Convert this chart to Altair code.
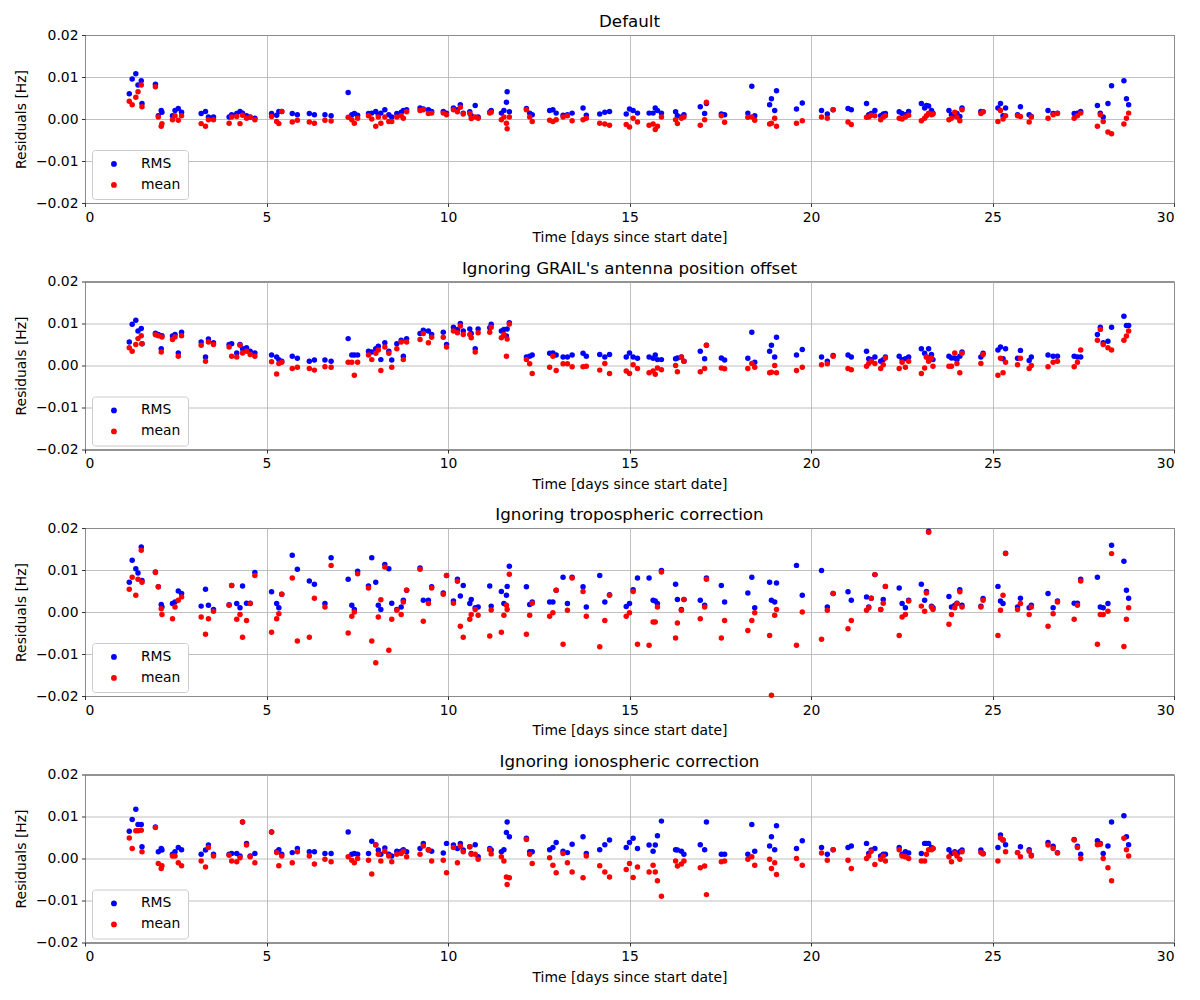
import altair as alt
import pandas as pd

# Observation times [days since start date]
DAYS = [
    1.22, 1.30, 1.40, 1.46, 1.55, 1.57, 1.94, 2.02, 2.10, 2.12,
    2.41, 2.48, 2.57, 2.66, 3.20, 3.32, 3.40, 3.54, 3.97, 4.04,
    4.18, 4.27, 4.34, 4.45, 4.55, 4.68, 5.14, 5.28, 5.34, 5.42,
    5.71, 5.85, 6.18, 6.32, 6.61, 6.78, 7.25, 7.35, 7.42, 7.51,
    7.81, 7.90, 8.01, 8.08, 8.15, 8.26, 8.37, 8.45, 8.59, 8.71,
    8.77, 8.86, 9.23, 9.32, 9.46, 9.55, 9.87, 9.96, 10.15, 10.26,
    10.34, 10.42, 10.60, 10.64, 10.75, 10.83, 11.15, 11.19, 11.47, 11.54,
    11.61, 11.63, 11.69, 12.16, 12.25, 12.32, 12.80, 12.89, 12.98, 13.17,
    13.29, 13.42, 13.72, 13.81, 14.18, 14.32, 14.45, 14.91, 15.00, 15.10,
    15.22, 15.54, 15.65, 15.71, 15.77, 15.88, 16.27, 16.32, 16.43, 16.50,
    16.95, 17.07, 17.12, 17.53, 17.62, 18.26, 18.37, 18.45, 18.86, 18.91,
    19.00, 19.05, 19.60, 19.76, 20.29, 20.45, 20.61, 21.02, 21.11, 21.53,
    21.59, 21.66, 21.76, 21.92, 21.99, 22.05, 22.43, 22.51, 22.60, 22.69,
    23.04, 23.13, 23.18, 23.24, 23.32, 23.36, 23.80, 23.87, 23.96, 24.02,
    24.10, 24.16, 24.68, 24.74, 25.15, 25.22, 25.29, 25.36, 25.69, 25.77,
    26.01, 26.07, 26.53, 26.67, 26.79, 27.25, 27.34, 27.43, 27.89, 27.97,
    28.05, 28.18, 28.28, 28.62, 28.69, 28.75,
]

# Residuals, in units of 1e-3 Hz
DEFAULT_RMS = [
    6.0, 9.5, 10.8, 8.1, 9.1, 3.7, 8.3, 0.8, 2.0, 1.6,
    0.8, 2.0, 2.5, 1.6, 1.3, 1.8, 0.5, 0.5, 0.5, 1.0,
    1.3, 1.8, 1.4, 0.8, 0.5, 0.2, 1.3, 0.9, 1.8, 1.8,
    1.3, 1.0, 1.3, 1.0, 1.0, 0.8, 6.3, 1.0, 1.3, 0.9,
    1.3, 1.4, 1.8, 1.0, 1.4, 2.2, 1.0, 0.5, 1.3, 1.6,
    2.0, 2.2, 2.6, 2.4, 2.2, 1.8, 1.8, 1.4, 2.6, 2.2,
    3.4, 1.4, 1.7, 0.8, 3.2, 0.5, 1.6, 2.0, 1.4, 2.0,
    4.0, 6.5, 1.7, 2.5, 1.4, 1.0, 2.0, 2.2, 1.4, 0.9,
    1.0, 1.4, 2.6, 0.9, 1.2, 1.6, 1.8, 1.2, 2.4, 2.0,
    1.4, 1.4, 1.4, 2.6, 2.0, 1.4, 1.7, 0.8, 0.5, 1.0,
    2.9, 1.3, 3.7, 1.2, 1.0, 1.4, 7.8, 0.8, 3.4, 4.8,
    2.0, 6.7, 2.4, 3.8, 2.0, 1.2, 2.2, 2.5, 2.2, 3.7,
    1.0, 1.3, 2.0, 0.8, 1.2, 1.3, 1.7, 1.3, 1.0, 1.8,
    3.7, 2.6, 3.2, 3.1, 2.0, 1.4, 2.0, 1.0, 0.8, 1.3,
    0.6, 2.6, 1.8, 1.7, 2.6, 3.7, 0.8, 2.6, 1.0, 2.9,
    1.0, 0.6, 2.0, 1.3, 1.4, 1.3, 1.4, 1.8, 3.2, 1.4,
    0.5, 3.7, 7.9, 9.1, 4.8, 3.4,
]
DEFAULT_MEAN = [
    4.2, 3.4, 5.2, 6.5, 8.1, 2.9, 7.7, 0.5, -1.7, -1.1,
    -0.2, 0.8, -0.3, 0.8, -1.1, -1.7, -0.2, -0.2, -1.0, 0.5,
    0.6, -1.1, 0.9, 0.2, 0.4, -0.2, 0.6, -0.6, -1.1, 1.8,
    -0.7, -0.3, -0.7, -1.0, -0.3, -0.5, 0.4, -0.2, -1.0, 0.2,
    0.8, 0.0, -1.7, 0.5, -1.0, 0.5, -0.6, -0.6, 0.5, 0.8,
    0.2, 1.7, 2.0, 2.2, 1.3, 1.4, 1.4, 1.0, 2.2, 1.7,
    2.8, 1.2, 1.3, 0.1, 0.5, 0.2, 1.4, 1.6, -0.2, 0.5,
    -1.0, -2.3, 0.5, 2.2, 0.5, -0.6, -0.3, -0.6, -0.2, 0.5,
    0.8, -0.4, -0.2, 0.2, -1.0, -1.2, -1.5, -1.3, -1.9, 0.2,
    -0.7, -1.5, -1.2, -2.5, -1.7, 0.5, -0.2, -1.1, 0.2, 0.5,
    -1.5, -0.2, 4.0, 0.8, -0.8, 0.4, 0.5, -0.3, -1.2, -1.0,
    0.2, -1.7, -1.0, -0.4, 0.5, 0.2, 2.2, -0.7, -1.3, 0.4,
    0.5, 0.9, 0.8, -0.2, 0.5, 0.8, 0.2, 0.0, 0.5, 0.9,
    -0.4, 0.2, 0.8, 1.4, 1.0, 1.2, -0.2, 0.2, 1.6, 0.5,
    -0.4, 2.2, 1.3, 1.7, -0.6, 2.0, 0.0, 0.8, 0.8, 0.6,
    -0.7, 0.5, 0.2, 1.0, 1.3, 0.2, 0.8, 1.4, -1.7, 1.0,
    -0.6, -3.1, -3.5, -1.2, 0.2, 1.4,
]

ANTENNA_RMS = [
    5.6, 9.8, 10.8, 8.2, 8.8, 5.2, 7.7, 7.4, 4.0, 7.1,
    7.0, 7.4, 3.0, 7.9, 5.6, 2.0, 6.3, 5.4, 5.0, 5.2,
    3.0, 5.0, 4.0, 4.2, 3.4, 3.0, 2.5, 2.0, 1.4, 1.0,
    2.2, 1.7, 1.0, 1.3, 1.3, 1.0, 6.4, 2.5, 2.5, 2.5,
    3.4, 3.2, 4.0, 4.6, 1.4, 5.4, 3.4, 1.3, 5.2, 6.0,
    2.2, 6.4, 7.6, 8.4, 8.2, 7.4, 7.9, 5.0, 9.1, 8.6,
    10.0, 8.2, 8.7, 7.6, 4.0, 8.7, 9.0, 9.8, 8.2, 8.6,
    7.0, 8.7, 10.2, 2.0, 2.2, 2.5, 2.9, 3.0, 2.5, 2.0,
    2.0, 2.5, 2.9, 2.2, 2.6, 2.0, 2.6, 2.0, 3.0, 2.0,
    1.7, 2.0, 1.7, 2.5, 1.4, 1.4, 1.6, 1.8, 2.0, 1.0,
    3.4, 1.6, 4.8, 1.8, 1.3, 1.7, 7.9, 0.8, 3.4, 4.8,
    2.0, 6.7, 2.5, 3.8, 2.0, 1.0, 2.4, 2.5, 2.0, 3.4,
    1.6, 1.4, 2.0, 1.0, 1.4, 2.0, 2.2, 1.4, 1.6, 2.0,
    4.0, 2.9, 2.0, 4.0, 2.6, 1.4, 2.2, 1.8, 1.8, 1.4,
    2.2, 3.2, 2.0, 2.9, 3.7, 4.4, 1.6, 4.0, 1.7, 3.6,
    1.2, 2.0, 2.5, 2.2, 2.2, 2.2, 2.0, 2.0, 7.4, 9.1,
    5.4, 5.8, 9.1, 11.7, 9.5, 9.5,
]
ANTENNA_MEAN = [
    4.2, 3.4, 5.0, 6.4, 7.1, 5.2, 7.3, 7.1, 3.2, 6.8,
    6.2, 6.8, 2.2, 7.1, 4.8, 1.0, 5.6, 5.0, 4.4, 2.2,
    2.0, 4.8, 3.0, 3.4, 2.6, 2.2, 0.9, -2.0, 0.5, 0.8,
    -0.7, -0.4, -0.7, -1.1, -0.3, -0.4, 0.8, 0.8, -2.3, 0.8,
    2.5, 1.4, 2.9, 3.7, -1.2, 4.4, 2.9, -0.4, 4.0, 5.6,
    1.4, 5.6, 6.2, 7.6, 5.4, 6.7, 6.7, 4.4, 8.2, 7.8,
    9.4, 7.4, 7.4, 6.6, 3.2, 7.8, 7.9, 9.1, 6.6, 7.4,
    2.2, 6.3, 9.9, 1.4, 0.4, -1.9, -0.4, 2.2, -1.2, 0.4,
    0.4, -0.3, -0.3, -0.2, -1.1, 0.5, -1.9, -1.3, -1.9, 0.2,
    -0.7, -1.7, -1.3, -2.1, -0.6, -1.0, 0.0, -1.5, 2.0, 1.0,
    -1.5, -0.7, 4.8, -0.6, -0.8, -0.7, 0.5, -0.4, -1.7, -1.6,
    0.0, -1.7, -1.2, -0.4, 0.2, 0.4, 2.2, -0.7, -1.0, -0.2,
    0.5, 1.0, 0.5, -0.7, 0.2, 1.8, -0.7, 0.8, -0.4, 1.0,
    -1.9, -0.6, 2.0, 1.0, 1.8, -0.2, -0.2, -0.2, 3.0, 0.5,
    -1.7, 2.9, 0.5, 2.6, -2.3, 1.7, -1.7, 0.8, 0.2, 1.7,
    -0.7, 0.0, -0.3, 0.8, 1.0, -0.3, 0.8, 3.7, 6.0, 8.6,
    5.0, 4.2, 3.7, 6.0, 7.0, 8.2,
]

TROPO_RMS = [
    7.1, 12.3, 10.3, 9.3, 15.5, 7.5, 9.5, 6.0, 1.8, 1.2,
    2.0, 2.4, 5.0, 4.4, 1.4, 5.4, 1.6, 0.6, 1.7, 6.3,
    2.0, 1.0, 6.2, 2.1, 2.1, 9.4, 4.8, 2.0, 1.0, 4.2,
    13.5, 10.2, 7.4, 6.6, 2.0, 12.9, 7.8, 1.6, 0.6, 9.7,
    6.2, 12.9, 7.1, 1.6, 0.6, 11.3, 10.3, 2.1, 0.6, 1.2,
    2.8, 5.2, 10.5, 2.8, 2.8, 6.0, 4.5, 8.7, 2.6, 7.8,
    3.8, 6.3, 2.0, 3.0, 1.0, 1.2, 6.2, 1.4, 4.9, 2.0,
    4.0, 6.1, 10.9, 6.0, 1.8, 2.4, 2.4, 2.4, 5.2, 8.3,
    2.0, 8.3, 6.0, 1.2, 8.7, 2.4, 4.1, 1.3, 2.0, 5.3,
    8.1, 8.1, 2.8, 2.6, 2.0, 9.9, 6.6, 3.0, 0.6, 3.0,
    2.8, 1.6, 8.1, 6.3, 2.4, 4.5, 8.3, 1.0, 7.1, 2.8,
    2.4, 6.9, 11.1, 4.0, 9.9, 1.2, 4.4, 4.8, 2.8, 3.6,
    1.2, 3.3, 8.9, 0.6, 3.0, 6.1, 5.7, 2.0, 1.0, 2.8,
    6.6, 2.8, 4.9, 19.2, 1.4, 1.0, 3.7, 1.2, 1.6, 2.1,
    5.3, 1.6, 1.4, 3.2, 6.1, 2.6, 2.0, 14.0, 1.2, 3.3,
    1.0, 1.6, 4.4, 1.0, 2.6, 2.1, 2.1, 7.8, 8.3, 1.2,
    1.0, 2.0, 15.9, 12.1, 5.2, 3.3,
]
TROPO_MEAN = [
    5.4, 8.3, 4.0, 7.8, 14.7, 7.1, 9.4, 6.0, 0.8, -0.6,
    -1.6, 1.2, 2.8, 3.6, -1.2, -5.3, -1.6, 0.2, 1.6, 6.3,
    -1.7, -0.6, -6.0, -2.0, 2.0, 8.7, -4.8, -1.6, -0.4, 4.2,
    8.1, -6.9, -6.0, 3.3, 1.2, 11.1, -5.0, -1.0, 0.0, 9.1,
    5.7, -6.9, -12.1, -1.2, 2.9, 10.7, -9.1, -1.7, 0.4, -0.6,
    2.4, 5.2, 10.2, -2.2, 2.0, 5.7, 4.2, 8.7, 2.1, 7.3,
    -3.4, -6.0, -1.7, -0.6, 0.6, -0.8, -5.7, 0.5, -4.8, -0.8,
    1.6, 0.6, 9.0, -5.3, -0.8, 2.1, -1.0, -0.2, 5.2, -7.7,
    0.4, 8.1, 4.9, -1.0, -8.3, -2.0, 4.0, -1.0, -0.2, 4.9,
    -7.7, -7.9, -2.4, -2.4, 1.2, 9.5, -6.2, -2.6, 0.4, 3.0,
    -1.6, 1.2, 7.8, -6.2, -2.0, -4.4, -2.0, -0.2, -5.6, -19.8,
    -0.8, 0.6, -7.9, 0.0, -6.5, 0.4, 4.4, -4.0, -2.0, 0.4,
    1.0, 3.3, 8.9, 0.6, 2.1, 6.1, -5.6, -1.2, -0.6, 2.6,
    1.4, 0.2, 4.5, 19.0, 1.2, 0.6, -2.9, -0.6, 1.0, 2.0,
    4.8, 1.2, 1.2, 2.8, -5.6, 0.4, 4.0, 13.9, 0.6, 2.0,
    -0.6, 1.2, -3.4, -0.4, 2.4, -1.7, 1.6, 7.4, -7.7, -0.6,
    -0.6, 0.2, 13.9, -8.2, -1.7, 1.0,
]

IONO_RMS = [
    6.5, 9.3, 11.7, 8.1, 8.1, 2.8, 7.5, 1.6, 2.4, 2.0,
    1.0, 1.6, 2.6, 2.1, 1.0, 2.0, 3.2, 1.0, 1.0, 1.2,
    1.2, 0.6, 8.7, 3.6, 0.6, 1.2, 6.3, 1.6, 2.1, 1.0,
    1.4, 2.4, 1.6, 1.6, 1.2, 1.2, 6.3, 1.0, 1.2, 1.0,
    1.2, 4.1, 3.3, 2.0, 1.0, 2.5, 1.0, 0.6, 1.7, 1.7,
    2.1, 1.6, 2.4, 3.6, 2.1, 1.7, 1.3, 3.6, 3.2, 2.4,
    3.6, 2.0, 2.8, 1.2, 3.3, 0.4, 2.4, 2.0, 1.6, 2.1,
    6.2, 8.7, 5.2, 4.8, 1.6, 1.6, 2.1, 2.6, 3.8, 1.7,
    1.4, 3.4, 5.2, 1.2, 2.1, 3.3, 4.4, 2.6, 3.8, 4.8,
    2.4, 3.2, 1.7, 3.2, 5.4, 8.9, 2.1, 2.0, 1.7, 1.0,
    3.3, 2.1, 8.7, 1.0, 1.0, 1.0, 8.1, 1.7, 3.0, 5.2,
    2.1, 7.8, 2.4, 4.2, 2.6, 1.0, 2.1, 2.6, 3.0, 3.6,
    1.2, 2.0, 2.4, 0.6, 1.0, 1.0, 2.6, 1.0, 1.6, 1.3,
    1.2, 3.6, 3.6, 3.6, 2.6, 2.4, 2.1, 1.2, 1.6, 1.0,
    1.6, 2.0, 2.0, 1.2, 2.6, 5.6, 4.4, 3.3, 1.4, 2.8,
    2.1, 0.8, 3.8, 2.9, 1.4, 4.5, 2.9, 1.0, 4.2, 3.6,
    1.2, 3.0, 8.7, 10.2, 5.2, 3.3,
]
IONO_MEAN = [
    4.9, 2.4, 6.6, 6.6, 6.7, 1.6, 7.4, -1.2, -2.4, -1.7,
    0.6, 0.6, -1.0, -1.7, -0.6, -2.0, 2.6, 0.6, 0.8, -0.6,
    -0.8, 0.2, 8.7, 3.2, 0.4, -1.0, 6.3, 1.4, -1.7, 0.6,
    -1.0, 1.6, 0.6, -1.3, -0.2, -0.8, 0.4, -0.4, -1.0, 0.0,
    -0.4, -3.7, 3.2, 1.0, -0.6, 1.7, 0.6, -0.8, 1.0, 1.2,
    1.7, 0.4, 1.0, 3.0, 2.0, -0.6, -0.4, -3.4, 2.6, -1.0,
    2.9, 1.6, 2.8, 1.0, 1.0, -0.2, 2.1, 1.1, 0.4, -0.6,
    -4.4, -6.2, -4.6, 4.5, 1.0, -1.2, 0.2, -1.6, -3.4, 1.2,
    -1.0, -3.2, -4.6, 0.6, -1.7, -3.2, -4.4, -2.6, -1.2, -4.5,
    -2.0, -3.2, -1.6, -3.2, -5.3, -9.0, -0.6, -1.8, -1.3, -0.6,
    -2.2, -1.8, -8.6, -0.8, -0.6, -0.2, 0.4, -1.6, -0.2, -2.4,
    -1.0, -3.8, 0.0, -1.6, 1.3, -0.4, 2.1, -0.4, -2.4, 0.0,
    0.6, 1.7, -1.4, -0.2, 0.6, -0.6, 2.1, 0.6, 0.4, 0.0,
    -0.6, -0.6, 1.0, 2.1, 2.1, 2.4, 0.4, -0.8, 1.3, 0.6,
    -0.2, 1.6, 1.4, 1.1, -0.6, 4.9, 4.4, 1.6, 1.4, 0.4,
    1.7, 0.6, 3.2, 2.4, 1.3, 4.4, 2.6, 0.0, 3.3, 3.4,
    0.0, -2.2, -5.3, 4.8, 2.1, 0.6,
]

TITLES = [
    "Default",
    "Ignoring GRAIL's antenna position offset",
    "Ignoring tropospheric correction",
    "Ignoring ionospheric correction",
]
SERIES = [
    (DEFAULT_RMS, DEFAULT_MEAN),
    (ANTENNA_RMS, ANTENNA_MEAN),
    (TROPO_RMS, TROPO_MEAN),
    (IONO_RMS, IONO_MEAN),
]
UNIT = 1e-3
X_TICKS = [0, 5, 10, 15, 20, 25, 30]
Y_TICKS = [-0.02, -0.01, 0.0, 0.01, 0.02]

FONT = "DejaVu Sans"


def make_panel(title, rms, mean):
    n = len(DAYS)
    assert len(rms) == n and len(mean) == n, (title, len(rms), len(mean))
    df = pd.DataFrame({
        "day": DAYS + DAYS,
        "value": [v * UNIT for v in rms] + [v * UNIT for v in mean],
        "series": ["RMS"] * n + ["mean"] * n,
    })
    return alt.Chart(df, title=alt.TitleParams(
        title, font=FONT, fontSize=16.7, fontWeight="normal", color="black", offset=-3
    )).mark_circle(size=30, opacity=1).encode(
        x=alt.X("day:Q",
                scale=alt.Scale(domain=[0, 30], nice=False, zero=False),
                axis=alt.Axis(values=X_TICKS, format="d",
                              title="Time [days since start date]")),
        y=alt.Y("value:Q",
                scale=alt.Scale(domain=[-0.02, 0.02], nice=False, zero=False),
                axis=alt.Axis(values=Y_TICKS, format=".2f",
                              title="Residuals [Hz]")),
        color=alt.Color("series:N",
                        scale=alt.Scale(domain=["RMS", "mean"], range=["#0000ff", "#ff0000"]),
                        legend=alt.Legend(title=None, orient="none", legendX=7, legendY=115,
                                          padding=7, strokeColor="#cccccc", fillColor="white",
                                          cornerRadius=3, labelFont=FONT, labelFontSize=13.9,
                                          labelColor="black", symbolType="circle",
                                          symbolSize=34, symbolOpacity=1,
                                          symbolStrokeWidth=0, rowPadding=6,
                                          symbolOffset=8, labelOffset=20)),
    ).properties(width=1089, height=168)


panels = [make_panel(t, r, m) for t, (r, m) in zip(TITLES, SERIES)]

chart = alt.vconcat(*panels, spacing=13.5).resolve_scale(
    color="independent"
).resolve_legend(color="independent").configure(
    background="white", padding={"left": 13, "top": 13, "right": 5, "bottom": 5}
).configure_view(
    stroke="black", strokeWidth=1
).configure_axis(
    labelFont=FONT, titleFont=FONT, labelFontSize=13.9, titleFontSize=13.9,
    labelColor="black", titleColor="black", titleFontWeight="normal",
    gridColor="#b0b0b0", gridWidth=0.8, gridOpacity=1,
    domain=False, tickColor="black", tickSize=3.5, tickWidth=0.8,
    labelPadding=3.5, titlePadding=7,
)

chart.save("out.html", embed_options={"renderer": "svg", "actions": False})
